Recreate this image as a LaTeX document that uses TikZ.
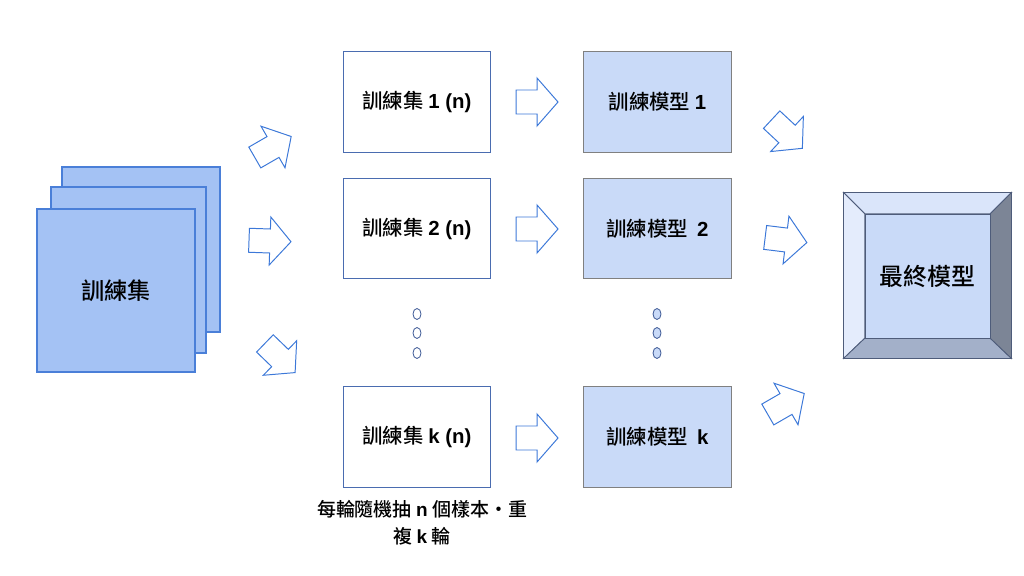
\documentclass[tikz,border=0pt]{standalone}
\usepackage{fontspec}
\newfontfamily\cjk{Noto Sans CJK TC}[BoldFont={Noto Sans CJK TC Medium}]
\newfontfamily\lat{Liberation Sans}
\newcommand{\la}[1]{{\lat\bfseries #1}}
\usetikzlibrary{shapes.geometric}

\definecolor{sheetfill}{HTML}{A4C2F4}
\definecolor{sheetline}{HTML}{4A7FD8}
\definecolor{arrowline}{HTML}{3C78D8}
\definecolor{setline}{HTML}{4A6CB0}
\definecolor{modelfill}{HTML}{C9DAF8}
\definecolor{modelline}{HTML}{808080}
\definecolor{dotline}{HTML}{45609A}
\definecolor{bevtop}{HTML}{DAE5FA}
\definecolor{bevleft}{HTML}{E4ECFC}
\definecolor{bevbot}{HTML}{A3B0C9}
\definecolor{bevright}{HTML}{7C8596}
\definecolor{bevline}{HTML}{4E5C7A}

\tikzset{
  sheet/.style={draw=sheetline, fill=sheetfill, line width=0.8pt},
  setbox/.style={draw=setline, fill=white, line width=0.7pt, minimum width=3.65cm, minimum height=2.5cm, inner sep=0pt},
  modelbox/.style={draw=modelline, fill=modelfill, line width=0.7pt, minimum width=3.675cm, minimum height=2.5cm, inner sep=0pt},
  boxtext/.style={font=\cjk\bfseries\fontsize{14.5}{16}\selectfont},
  dot/.style={ellipse, draw=dotline, line width=0.6pt, minimum width=0.2cm, minimum height=0.275cm, inner sep=0pt},
  blockarrow/.pic={
    \draw[arrowline, line width=0.7pt, line join=miter]
      (-21,-12) -- (0,-12) -- (0,-24) -- (21,0) -- (0,24) -- (0,12) -- (-21,12) -- cycle;
  }
}

\begin{document}
\begin{tikzpicture}[x=0.025cm, y=-0.025cm]
\useasboundingbox (0,0) rectangle (1024,576);

% stacked training set
\draw[sheet] (62,167) rectangle (220,332);
\draw[sheet] (51,187) rectangle (206,353);
\node[sheet, minimum width=3.95cm, minimum height=4.075cm, font=\cjk\bfseries\fontsize{16.5}{18}\selectfont] (full) at (116,290.5) {訓練集};

% sampled sets and models
\node[setbox, boxtext] (set1) at (417,102) {訓練集 \la{1 (n)}};
\node[setbox, boxtext] (set2) at (417,228.5) {訓練集 \la{2 (n)}};
\node[setbox, boxtext] (setk) at (417,437) {訓練集 \la{k (n)}};
\node[modelbox, boxtext] (model1) at (657.5,102) {訓練模型 \la{1}};
\node[modelbox, boxtext] (model2) at (657.5,228.5) {訓練模型~~\la{2}};
\node[modelbox, boxtext] (modelk) at (657.5,437) {訓練模型~~\la{k}};

% dots
\node[dot, fill=white] (sdot1) at (417,314) {};
\node[dot, fill=white] (sdot2) at (417,333) {};
\node[dot, fill=white] (sdot3) at (417,353) {};
\node[dot, fill=modelfill] (mdot1) at (657,314) {};
\node[dot, fill=modelfill] (mdot2) at (657,333) {};
\node[dot, fill=modelfill] (mdot3) at (657,353) {};

% block arrows
\pic[rotate=30] (in1) at (273,147) {blockarrow};
\pic[rotate=-2] (in2) at (270,241) {blockarrow};
\pic[rotate=-44] (in3) at (280,358) {blockarrow};
\pic (mid1) at (537,102) {blockarrow};
\pic (mid2) at (537,229) {blockarrow};
\pic (midk) at (537,438) {blockarrow};
\pic[rotate=-43] (out1) at (787,134) {blockarrow};
\pic[rotate=-7] (out2) at (786,240) {blockarrow};
\pic[rotate=30] (out3) at (786,404) {blockarrow};

% final model
\node[draw=bevline, line width=0.7pt, minimum width=4.175cm, minimum height=4.125cm, inner sep=0pt] (final) at (927.5,275.5) {};
\node[minimum width=3.125cm, minimum height=3.1cm, inner sep=0pt] (finalin) at (927.5,276) {};
\filldraw[fill=bevtop, draw=bevline, line width=0.6pt] (final.north west) -- (final.north east) -- (finalin.north east) -- (finalin.north west) -- cycle;
\filldraw[fill=bevleft, draw=bevline, line width=0.6pt] (final.north west) -- (finalin.north west) -- (finalin.south west) -- (final.south west) -- cycle;
\filldraw[fill=bevbot, draw=bevline, line width=0.6pt] (final.south west) -- (finalin.south west) -- (finalin.south east) -- (final.south east) -- cycle;
\filldraw[fill=bevright, draw=bevline, line width=0.6pt] (final.north east) -- (finalin.north east) -- (finalin.south east) -- (final.south east) -- cycle;
\node[fill=modelfill, draw=bevline, line width=0.6pt, minimum width=3.125cm, minimum height=3.1cm, inner sep=0pt, font=\cjk\bfseries\fontsize{17}{19}\selectfont] at (finalin) {最終模型};

% caption
\node[align=center, font=\cjk\bfseries\fontsize{13.5}{19}\selectfont] (note) at (422,523) {每輪隨機抽 \la{n} 個樣本・重\\複 \la{k} 輪};

\end{tikzpicture}
\end{document}
